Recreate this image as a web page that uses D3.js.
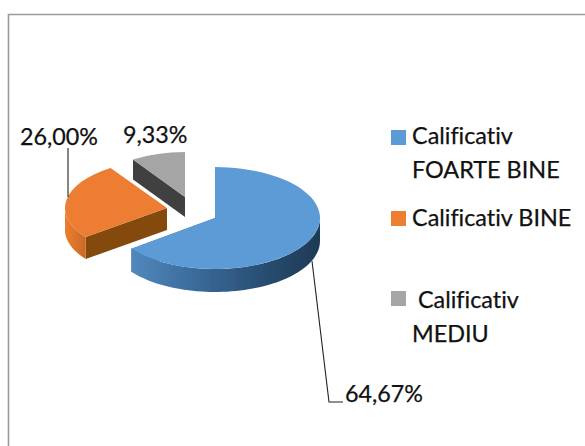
<!DOCTYPE html>
<html><head><meta charset="utf-8">
<script src="https://cdn.jsdelivr.net/npm/d3@7"></script>
<style>html,body{margin:0;padding:0;background:#fff}svg{display:block}text{font-family:Lato,"Open Sans",sans-serif;fill:#111;stroke:#111;stroke-width:.25;font-variant-ligatures:none}</style>
</head><body><svg id="c" width="585" height="446"></svg>
<script>
const categories = ["Calificativ FOARTE BINE","Calificativ BINE","Calificativ MEDIU"];
const values = [64.67,26.00,9.33];
const valueLabels = ["64,67%","26,00%","9,33%"];
const topColors = ["#5b9bd5","#ed7d31","#a5a5a5"];
const cutColors = ["#41719c","#84480f","#404040"];
const legendLines = [["Calificativ","FOARTE BINE"],["Calificativ BINE"],[" Calificativ","MEDIU"]];

const svg = d3.select("#c");
const W=585,H=446;
svg.append("rect").attr("width",W).attr("height",H).attr("fill","#fff");
svg.append("path").attr("d",`M8.5,${H}V14.5H${W}`).attr("fill","none").attr("stroke","#9a9a9a").attr("stroke-width",1.6);

const defs = svg.append("defs");
defs.append("filter").attr("id","soft").append("feGaussianBlur").attr("stdDeviation",0.45);
const g1 = defs.append("linearGradient").attr("id","wall0");
[[0,"#5288bd"],[0.35,"#3a6a99"],[0.75,"#264a6c"],[1,"#1e3a55"]].forEach(s=>g1.append("stop").attr("offset",s[0]).attr("stop-color",s[1]));
const g2 = defs.append("linearGradient").attr("id","wall1");
[[0,"#ed7d31"],[1,"#c96a26"]].forEach(s=>g2.append("stop").attr("offset",s[0]).attr("stop-color",s[1]));

const pie = d3.pie().sort(null)(values);
const centers = [{x:215,y:218,rx:105,ry:51,d:23},{x:167,y:208,rx:102,ry:48,d:22},{x:185,y:197,rx:94,ry:45,d:20}];
const root = svg.append("g").attr("filter","url(#soft)");
const px = (a,c)=>c.x+c.rx*Math.sin(a), py=(a,c)=>c.y-c.ry*Math.cos(a);
function sweep(a0,a1){return d3.range(0,61).map(i=>a0+(a1-a0)*i/60);}

[2,1,0].forEach(i=>{
  const s=pie[i],c=centers[i],g=root.append("g");
  const a = i===0 ? s.endAngle : s.startAngle;
  g.append("path").attr("fill",cutColors[i]).attr("d",d3.line()([
    [c.x,c.y],[px(a,c),py(a,c)],[px(a,c),py(a,c)+c.d],[c.x,c.y+c.d]]));
  const lo=Math.max(s.startAngle,Math.PI/2), hi=Math.min(s.endAngle,3*Math.PI/2);
  if(hi>lo && i<2){
    const pts=sweep(lo,hi);
    g.append("path").attr("fill",`url(#wall${i})`).attr("d",
      d3.area().x(a=>px(a,c)).y0(a=>py(a,c)).y1(a=>py(a,c)+c.d)(i===0?pts.slice().reverse():pts));
  }
  const arc=d3.arc().innerRadius(0).outerRadius(1)(s);
  g.append("path").attr("fill",topColors[i]).attr("d",arc)
    .attr("transform",`translate(${c.x},${c.y}) scale(${c.rx},${c.ry})`);
});

const leaders=[[[312,261],[329,402],[343,402]],[[68,197],[68,148]]];
leaders.forEach(l=>svg.append("path").attr("d",d3.line()(l)).attr("fill","none").attr("stroke","#222").attr("stroke-width",1.1));

const labelPos=[[345,402],[20,145],[123,143]];
valueLabels.forEach((t,i)=>svg.append("text").attr("x",labelPos[i][0]).attr("y",labelPos[i][1]).attr("font-size",23.3).text(t));

const legendY=[[144,178],[226],[308,342]];
const swatchY=[130,211,291];
categories.forEach((n,i)=>{
  svg.append("rect").attr("x",391).attr("y",swatchY[i]).attr("width",15).attr("height",15).attr("fill",topColors[i]);
  legendLines[i].forEach((t,j)=>svg.append("text").attr("x",412).attr("y",legendY[i][j]).attr("font-size",23.4).style("white-space","pre").text(t));
});
</script></body></html>
